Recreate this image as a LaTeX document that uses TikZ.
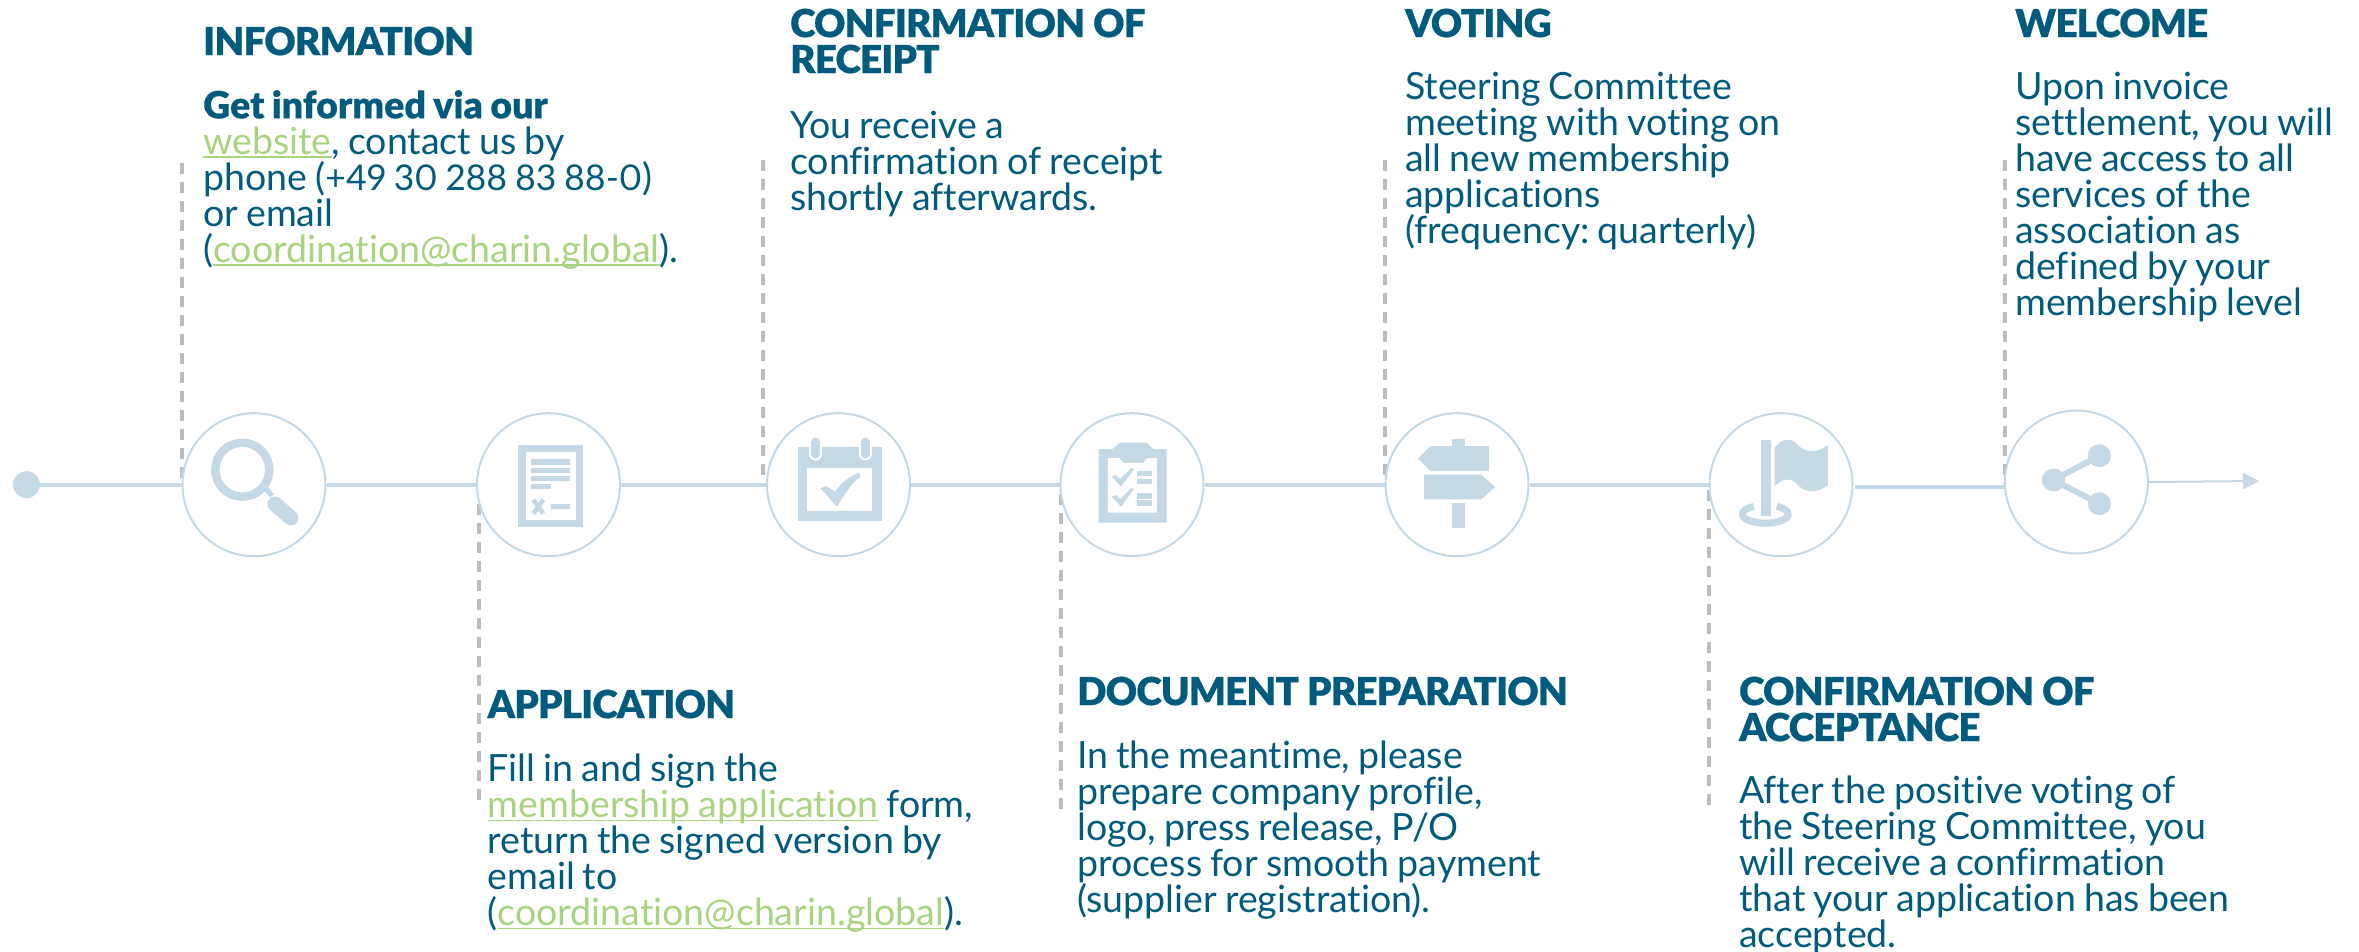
\documentclass[tikz,border=0pt]{standalone}
\usepackage{fontspec}
\setmainfont{Lato}[Ligatures=NoCommon,Numbers=Proportional,WordSpace=0.85]
\newfontfamily\headf{Lato Black}[LetterSpace=-2,FakeBold=0.6,Ligatures=NoCommon]
\newfontfamily\leadf{Lato Black}[FakeBold=0.3,Ligatures=NoCommon,WordSpace=0.85]
\usetikzlibrary{arrows.meta}
\definecolor{txt}{HTML}{005B7F}
\definecolor{lnk}{HTML}{A9D47F}
\definecolor{ice}{HTML}{C5D8E5}
\definecolor{dashc}{HTML}{BDBDBD}
\newcommand\lnk[1]{\setbox0\hbox{#1}\rlap{\color{lnk}\rule[-3.5pt]{\wd0}{1.8pt}}{\color{lnk}\box0}}
\newcommand\bst{\rule[-10pt]{0pt}{26pt}}
\newcommand\hst{\rule[-10pt]{0pt}{26pt}}
\newcommand\numf[1]{{\fontsize{35.5}{36}\selectfont #1}}
\tikzset{
  stop/.style={circle,draw=ice,line width=2pt,fill=white,minimum size=143pt,inner sep=0pt},
  flow/.style={draw=ice,line width=4pt},
  lead/.style={draw=dashc,line width=3.5pt,dash pattern=on 11pt off 8pt},
  head/.style={anchor=north west,inner sep=0pt,align=left,text=txt,font=\headf\fontsize{38.5}{36}\selectfont},
  body/.style={anchor=north west,inner sep=0pt,align=left,text=txt,font=\fontsize{37.5}{36}\selectfont\frenchspacing},
  icon/.style={fill=ice,draw=none},
  hole/.style={fill=white,draw=none},
  iconl/.style={draw=ice}
}
\begin{document}
\begin{tikzpicture}[x=1pt,y=-1pt]
\lineskiplimit=-100pt
\useasboundingbox (0,0) rectangle (2359,952);
% leader lines
\coordinate (d1) at (182,163);
\coordinate (d2) at (479,802);
\coordinate (d3) at (763,160);
\coordinate (d4) at (1061,815);
\coordinate (d5) at (1385,160);
\coordinate (d6) at (1709,808);
\coordinate (d7) at (2005,160);
\coordinate (l1) at (182,484.7);
\coordinate (l2) at (479,484.7);
\coordinate (l3) at (763,484.7);
\coordinate (l4) at (1061,494);
\coordinate (l5) at (1385,484.7);
\coordinate (l6) at (1709,490);
\coordinate (l7) at (2005,484);
\foreach \a/\b in {d1/l1,l2/d2,d3/l3,l4/d4,d5/l5,l6/d6,d7/l7}
  \draw[lead] (\a) -- (\b);
% timeline
\node[circle,fill=ice,minimum size=27pt,inner sep=0pt] (start) at (26.5,484.7) {};
\node[stop] (c1) at (254,484.7) {};
\node[stop] (c2) at (548.5,484.7) {};
\node[stop] (c3) at (838.5,484.7) {};
\node[stop] (c4) at (1132,484.7) {};
\node[stop] (c5) at (1457,484.7) {};
\node[stop] (c6) at (1781,484.7) {};
\node[stop] (c7) at (2076.4,482) {};
\coordinate (s6) at (1855,487.3);
\coordinate (e6) at (2004,487.3);
\coordinate (endp) at (2259,481);
\draw[flow] (start) -- (c1);
\draw[flow] (c1) -- (c2);
\draw[flow] (c2) -- (c3);
\draw[flow] (c3) -- (c4);
\draw[flow] (c4) -- (c5);
\draw[flow] (c5) -- (c6);
\draw[flow] (s6) -- (e6);
\draw[draw=ice,line width=2pt,-{Triangle[length=16pt,width=16pt]}] (c7.east) -- (endp);
% magnifier
\draw[iconl,line width=8.4pt] (242.3,469.7) circle (27);
\draw[iconl,line width=5pt] (264,486) -- (272,496);
\draw[iconl,line width=15pt,line cap=round] (275,504) -- (291,518);
% document
\fill[icon] (518.4,445) rectangle (582.7,527.3);
\fill[hole] (525.5,452) rectangle (575.5,520);
\fill[icon] (530.6,459.3) rectangle (570,464.7);
\fill[icon] (530.6,467.7) rectangle (570,473);
\fill[icon] (530.6,475.7) rectangle (570,481);
\fill[icon] (530.6,483.7) rectangle (551,489);
\fill[icon] (551,504) rectangle (570,509.3);
\draw[iconl,line width=4.5pt] (533.3,499.7) -- (543.3,513.7) (543.3,499.7) -- (533.3,513.7);
% calendar
\fill[icon] (797.7,446.7) rectangle (881.8,521);
\fill[hole] (807.3,468) rectangle (872,511);
\draw[white,line width=13pt,line cap=round] (815.5,442) -- (815.5,454);
\draw[white,line width=13pt,line cap=round] (865,442) -- (865,454);
\draw[iconl,line width=9pt,line cap=round] (815.5,442) -- (815.5,454);
\draw[iconl,line width=9pt,line cap=round] (865,442) -- (865,454);
\fill[icon] (820.6,488.3) -- (825.7,486) -- (835.4,491.7) .. controls (842,481) and (850,477) .. (858.9,472.3) -- (860.4,476.7) .. controls (851,484) and (844,495) .. (837,506.7) -- cycle;
% clipboard
\fill[icon] (1098.7,449) -- (1112.4,449) -- (1120,442.7) -- (1146.6,442.7) -- (1153.3,449) -- (1166.5,449) -- (1166.5,522.7) -- (1098.7,522.7) -- cycle;
\fill[hole] (1107.9,458) -- (1119,458) -- (1123.7,463) -- (1143,463) -- (1147.7,458) -- (1156.8,458) -- (1156.8,512.7) -- (1107.9,512.7) -- cycle;
\foreach \dy in {0,20}{
  \fill[icon,yshift=-\dy pt] (1112,476.7) -- (1115.5,475) -- (1120,479) -- (1131.8,467.7) -- (1133.9,469.3) -- (1121,486.7) -- cycle;
}
\fill[icon] (1137.4,471) rectangle (1152.2,476.3);
\fill[icon] (1137.4,478.7) rectangle (1152.2,484);
\fill[icon] (1137.4,493.3) rectangle (1152.2,498.7);
\fill[icon] (1137.4,500.3) rectangle (1152.2,505.7);
% signpost
\fill[icon] (1451.7,439.3) rectangle (1464.5,446);
\fill[icon] (1430.3,446) -- (1489,446) -- (1489,471) -- (1430.3,471) -- (1418,458.7) -- cycle;
\fill[icon] (1424.2,474.7) -- (1481.3,474.7) -- (1495,487) -- (1481.3,499.3) -- (1424.2,499.3) -- cycle;
\fill[icon] (1451.7,503.3) rectangle (1464.5,528.3);
% flag
\fill[icon] (1760.7,440) rectangle (1771,515.7);
\fill[icon] (1774.5,448) .. controls (1782,438) and (1790,438) .. (1796,443) .. controls (1803,452) and (1815,455) .. (1827.9,445) -- (1827.9,485) .. controls (1815,495) and (1803,492) .. (1796,483) .. controls (1790,478) and (1782,478) .. (1774.5,486.7) -- cycle;
\draw[iconl,line width=7pt] (1776.8,506.4) arc[start angle=-60,end angle=240,x radius=23,y radius=9];
% share
\draw[iconl,line width=6pt] (2099.4,455.7) -- (2053.5,480) -- (2099.4,503.7);
\fill[icon] (2099.4,455.7) circle (11.5);
\fill[icon] (2053.5,480) circle (11.5);
\fill[icon] (2099.4,503.7) circle (11.5);
% texts
\node[head] (h1) at (203,26.5) {\hst INFORMATION};
\node[body] (b1) at (203,90) {\bst{\leadf Get informed via our}\\\bst\lnk{website}, contact us by\\\bst phone (\numf{+49 30 288 83 88-0})\\\bst or email\\\bst(\lnk{coordination@charin.global}).};
\node[head] (h2) at (487.5,689.5) {\hst APPLICATION};
\node[body] (b2) at (487.5,754) {\bst Fill in and sign the\\\bst\lnk{membership application} form,\\\bst return the signed version by\\\bst email to\\\bst(\lnk{coordination@charin.global}).};
\node[head] (h3) at (790,8.5) {\hst CONFIRMATION OF\\\hst RECEIPT};
\node[body] (b3) at (790,111) {\bst You receive a\\\bst confirmation of receipt\\\bst shortly afterwards.};
\node[head] (h4) at (1077,676.5) {\hst DOCUMENT PREPARATION};
\node[body] (b4) at (1077,741) {\bst In the meantime, please\\\bst prepare company profile,\\\bst logo, press release, P/O\\\bst process for smooth payment\\\bst(supplier registration).};
\node[head] (h5) at (1405,8.5) {\hst VOTING};
\node[body] (b5) at (1405,72) {\bst Steering Committee\\\bst meeting with voting on\\\bst all new membership\\\bst applications\\\bst(frequency: quarterly)};
\node[head] (h6) at (1739,676.5) {\hst CONFIRMATION OF\\\hst ACCEPTANCE};
\node[body] (b6) at (1739,775.5) {\bst After the positive voting of\\\bst the Steering Committee, you\\\bst will receive a confirmation\\\bst that your application has been\\\bst accepted.};
\node[head] (h7) at (2015,8.5) {\hst WELCOME};
\node[body] (b7) at (2015,72) {\bst Upon invoice\\\bst settlement, you will\\\bst have access to all\\\bst services of the\\\bst association as\\\bst defined by your\\\bst membership level};
\end{tikzpicture}
\end{document}
